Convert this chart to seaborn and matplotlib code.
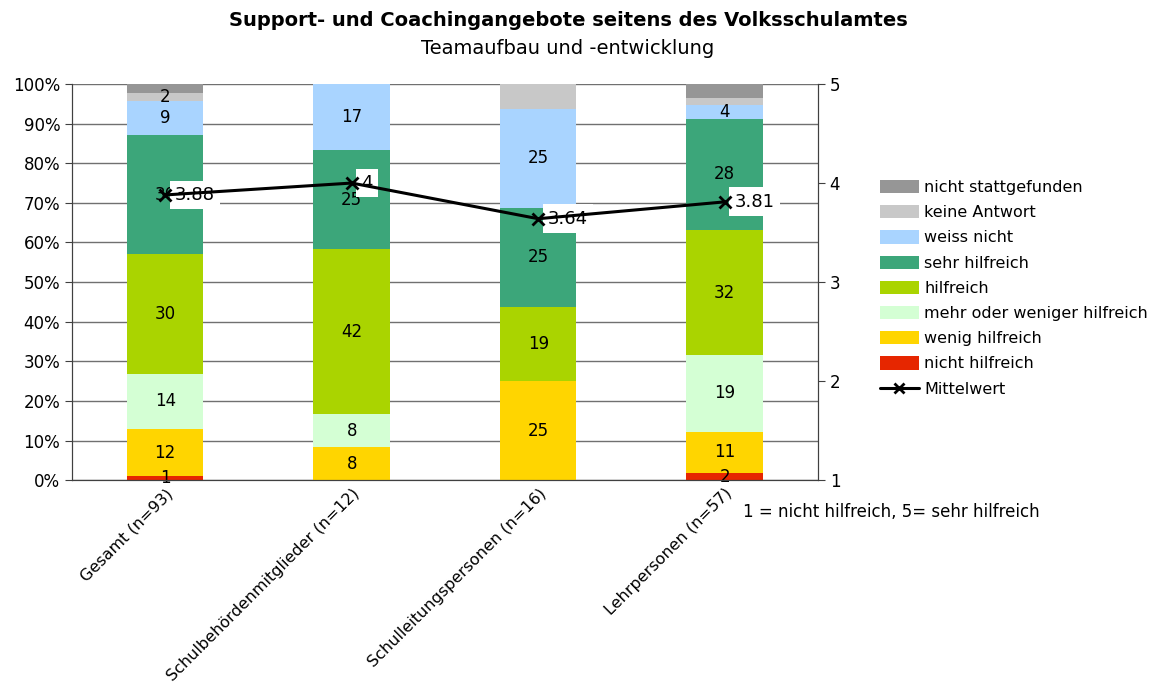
import numpy as np
import pandas as pd
import matplotlib
matplotlib.use("Agg")
import matplotlib.pyplot as plt
import matplotlib.patches as mpatches
import matplotlib.lines as mlines
import seaborn as sns

# response counts per group (from bottom to top of stack)
groups = ["Gesamt (n=93)", "Schulbehördenmitglieder (n=12)",
          "Schulleitungspersonen (n=16)", "Lehrpersonen (n=57)"]
answers = ["nicht hilfreich", "wenig hilfreich", "mehr oder weniger hilfreich",
           "hilfreich", "sehr hilfreich", "weiss nicht", "keine Antwort",
           "nicht stattgefunden"]
colors = ["#E62600", "#FFD500", "#D4FFD4", "#AAD400", "#3CA67A",
          "#A9D4FF", "#C8C8C8", "#969696"]
counts = {
    "Gesamt (n=93)":                  [1, 11, 13, 28, 28, 8, 2, 2],
    "Schulbehördenmitglieder (n=12)": [0, 1, 1, 5, 3, 2, 0, 0],
    "Schulleitungspersonen (n=16)":   [0, 4, 0, 3, 4, 4, 1, 0],
    "Lehrpersonen (n=57)":            [1, 6, 11, 18, 16, 2, 1, 2],
}
means = [3.88, 4.0, 3.64, 3.81]
# segments without a data label in the original
hidden = {("Gesamt (n=93)", "nicht stattgefunden"),
          ("Schulleitungspersonen (n=16)", "keine Antwort"),
          ("Lehrpersonen (n=57)", "keine Antwort"),
          ("Lehrpersonen (n=57)", "nicht stattgefunden")}

pct = pd.DataFrame(counts, index=answers).T
pct = pct.div(pct.sum(axis=1), axis=0) * 100
cum = pct.cumsum(axis=1)

sns.set_style("white")
plt.rcParams["font.family"] = ["DejaVu Sans"]
plt.rcParams.update({"text.color": "black", "xtick.color": "black",
                     "ytick.color": "black", "axes.labelcolor": "black"})

fig = plt.figure(figsize=(11.52, 6.97), dpi=100)
ax = fig.add_axes([0.0625, 0.311, 0.6475, 0.5685])

# stacked bars: draw cumulative totals from the top layer down
for ans, col in zip(answers[::-1], colors[::-1]):
    sns.barplot(x=cum.index, y=cum[ans].values, color=col, width=0.41,
                saturation=1, linewidth=0, edgecolor="none", ax=ax, zorder=2)

for i, g in enumerate(groups):
    bottom = 0
    for ans in answers:
        v = pct.loc[g, ans]
        if v > 0 and (g, ans) not in hidden:
            ax.text(i, bottom + v / 2, f"{v:.0f}", ha="center", va="center",
                    fontsize=12, color="black", zorder=3)
        bottom += v

ax.set_ylim(0, 100)
ax.set_xlim(-0.5, 3.5)
ax.set_yticks(np.arange(0, 101, 10))
ax.set_yticklabels([f"{t}%" for t in range(0, 101, 10)], fontsize=12)
ax.yaxis.grid(True, color="#707070", linewidth=1)
ax.set_axisbelow(True)
ax.set_xticks(range(len(groups)))
ax.set_xticklabels(groups, rotation=45, ha="right", rotation_mode="anchor",
                   fontsize=11.5)
ax.tick_params(axis="x", length=0, pad=4)
ax.set_xticks([0.5, 1.5, 2.5], minor=True)
ax.tick_params(axis="x", which="minor", length=8, color="#404040")
ax.tick_params(axis="y", length=5, color="#404040", left=True)
ax.set_xlabel("")
ax.set_ylabel("")
for s in ["left", "bottom", "right"]:
    ax.spines[s].set_color("#404040")
ax.spines["top"].set_visible(False)

# mean line on secondary axis
ax2 = ax.twinx()
sns.lineplot(x=np.arange(len(groups)), y=means, color="black", linewidth=2.2,
             marker="x", markersize=8, markeredgewidth=2,
             markeredgecolor="black", ax=ax2, zorder=5)
ax2.set_ylim(1, 5)
ax2.set_yticks([1, 2, 3, 4, 5])
ax2.set_yticklabels(["1", "2", "3", "4", "5"], fontsize=12)
ax2.tick_params(axis="y", length=5, color="#404040", right=True)
ax2.set_xlim(-0.5, 3.5)
for s in ["left", "bottom", "right"]:
    ax2.spines[s].set_color("#404040")
ax2.spines["top"].set_visible(False)
for i, m in enumerate(means):
    lab = f"{m:g}" if m == int(m) else f"{m:.2f}"
    ax2.annotate(lab, (i, m), xytext=(7, 0), textcoords="offset points",
                 ha="left", va="center", fontsize=13,
                 bbox=dict(boxstyle="square,pad=0.3", fc="white", ec="none"))

fig.text(0.493, 0.971, "Support- und Coachingangebote seitens des Volksschulamtes",
         ha="center", va="center", fontsize=14, fontweight="bold")
fig.text(0.493, 0.931, "Teamaufbau und -entwicklung", ha="center", va="center",
         fontsize=14)
fig.text(0.645, 0.265, "1 = nicht hilfreich, 5= sehr hilfreich", ha="left",
         va="center", fontsize=12)

handles = [mpatches.Patch(color=c, label=a, linewidth=0)
           for a, c in zip(answers[::-1], colors[::-1])]
handles.append(mlines.Line2D([], [], color="black", linewidth=2.2, marker="x",
                             markersize=7, markeredgewidth=2, label="Mittelwert"))
fig.legend(handles=handles, loc="upper left", bbox_to_anchor=(0.7585, 0.751),
           frameon=False, fontsize=11.5, labelspacing=0.63, handlelength=2.4,
           handleheight=0.9, handletextpad=0.35, borderaxespad=0)

fig.savefig("out.png", dpi=100)
